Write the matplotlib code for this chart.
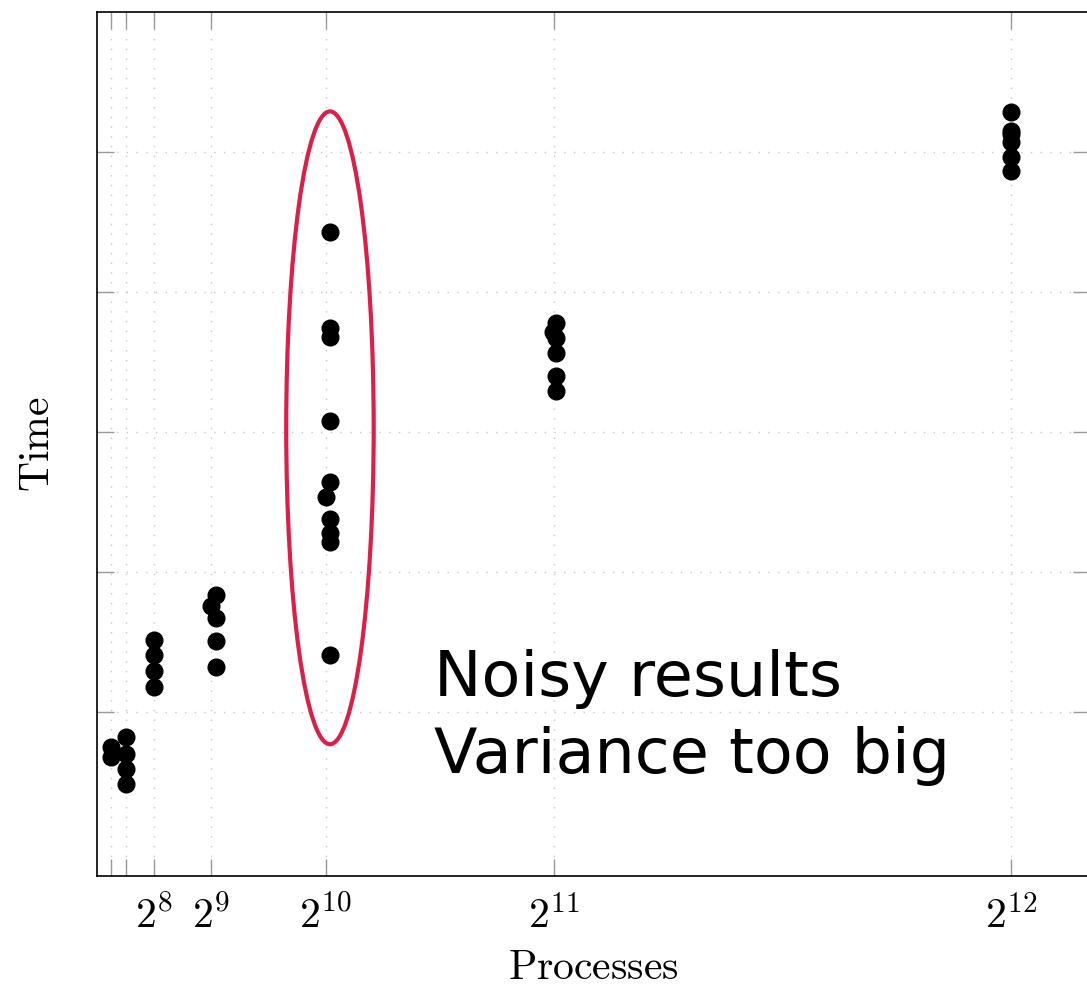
import matplotlib
matplotlib.use("Agg")
import matplotlib.pyplot as plt
from matplotlib.patches import Ellipse

plt.rcParams['mathtext.fontset'] = 'cm'

# measured runs: number of processes and time (arbitrary units, no y labels in original)
procs = [64, 64,
         128, 128, 128, 128,
         256, 256, 256, 256,
         534, 512, 534, 534, 534,
         1044, 1044, 1044, 1044, 1044, 1026, 1044, 1044, 1044, 1044,
         2058, 2042, 2058, 2058, 2058, 2058,
         4096, 4096, 4096, 4096, 4096, 4096]
times = [0.750, 0.679,
         0.821, 0.700, 0.593, 0.486,
         1.514, 1.407, 1.293, 1.179,
         1.836, 1.757, 1.671, 1.507, 1.321,
         4.429, 3.743, 3.679, 3.079, 2.643, 2.536, 2.379, 2.279, 2.214, 1.407,
         3.779, 3.714, 3.671, 3.564, 3.400, 3.293,
         5.286, 5.150, 5.129, 5.071, 4.964, 4.864]

xticks = [64, 128, 256, 512, 1024, 2048, 4096]
xlabels = ['', '', r'$2^{8}$', r'$2^{9}$', r'$2^{10}$', r'$2^{11}$', r'$2^{12}$']
yticks = [1, 2, 3, 4, 5]

note = "Noisy results\nVariance too big"

fig = plt.figure(figsize=(10.87, 9.86), dpi=100)
ax = fig.add_axes([97/1087, 110/986, 993/1087, 864/986])

ax.plot(procs, times, 'o', color='black', ms=12, zorder=3)

# highlight the noisy group
ax.add_patch(Ellipse((1044, 3.03), 392, 4.52, fill=False,
                     edgecolor='#DC1F48', lw=3, zorder=2))

ax.set_xlim(0, 4450)
ax.set_ylim(-0.171, 6.0)
ax.set_xticks(xticks)
ax.set_xticklabels(xlabels)
ax.set_yticks(yticks)
ax.set_yticklabels([])

ax.grid(True, color='#c8c8c8', linestyle=(0, (1, 6)), linewidth=1)
ax.tick_params(direction='in', length=12, width=1, color='#999999',
               top=True, right=True, labelsize=30, pad=14)
for s in ax.spines.values():
    s.set_linewidth(1.2)

ax.set_xlabel(r'$\mathrm{Processes}$', fontsize=30, labelpad=6)
ax.set_ylabel(r'$\mathrm{Time}$', fontsize=30, labelpad=14)

ax.text(1510, 1.45, note, fontsize=45.7, family='DejaVu Sans',
        va='top', ha='left', linespacing=1.36)

fig.savefig("out.png", dpi=100)
